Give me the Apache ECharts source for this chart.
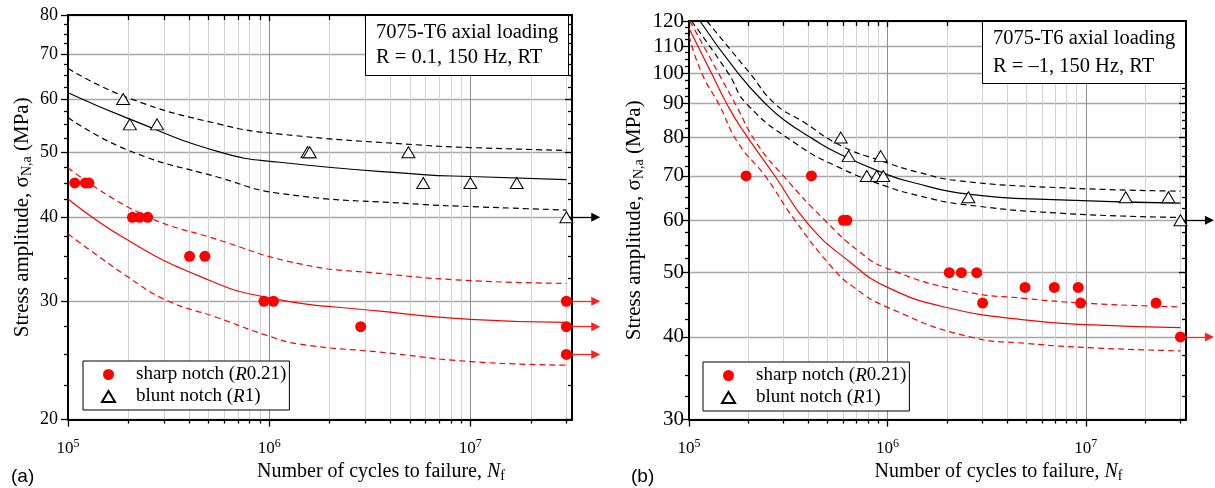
<!DOCTYPE html>
<html><head><meta charset="utf-8">
<script src="https://cdn.jsdelivr.net/npm/echarts@6/dist/echarts.min.js"></script>
<style>html,body{margin:0;padding:0;background:#fff}#c{width:1215px;height:488px}</style>
</head><body><div id="c"></div>
<script>
// ===== Panel (a): R = 0.1 =====
const sharpA_N = [1.08e5, 1.22e5, 1.27e5, 2.09e5, 2.27e5, 2.49e5, 4.02e5, 4.79e5, 9.42e5, 1.05e6, 2.85e6, 3.0e7, 3.0e7, 3.0e7];
const sharpA_S = [45, 45, 45, 40, 40, 40, 35, 35, 30, 30, 27.5, 30, 27.5, 25];
const bluntA_N = [1.88e5, 2.03e5, 2.77e5, 1.55e6, 1.59e6, 4.92e6, 5.83e6, 1.0e7, 1.70e7, 3.0e7];
const bluntA_S = [60, 55, 55, 50, 50, 50, 45, 45, 45, 40];
const runoutA_sharp_S = [30, 27.5, 25];
const runoutA_blunt_S = [40];

const fitA_black_N   = [1e5, 2.0e5, 5.7e5, 1.13e6, 5.8e6, 1e7, 3e7];
const fitA_black_S   = [61.3, 56.1, 50.0, 48.3, 46.3, 46.0, 45.5];
const fitA_blackUp_N = [1e5, 2.0e5, 5.7e5, 1.13e6, 5.8e6, 1e7, 3e7];
const fitA_blackUp_S = [66.6, 60.2, 55.0, 53.2, 51.2, 50.8, 50.3];
const fitA_blackLo_N = [1e5, 2.0e5, 5.7e5, 1.13e6, 5.8e6, 1e7, 3e7];
const fitA_blackLo_S = [56.3, 50.3, 45.8, 43.4, 41.8, 41.5, 41.0];
const fitA_red_N     = [1e5, 1.95e5, 4.5e5, 9.7e5, 3.56e6, 1e7, 3e7];
const fitA_red_S     = [42.6, 37.1, 32.7, 30.4, 29.0, 28.2, 27.9];
const fitA_redUp_N   = [1e5, 2.27e5, 5.47e5, 1.42e6, 3.56e6, 1e7, 3e7];
const fitA_redUp_S   = [47.4, 40.6, 37.1, 34.1, 33.0, 32.2, 31.9];
const fitA_redLo_N   = [1e5, 1.99e5, 3.09e5, 5.47e5, 9.7e5, 1.42e6, 3.56e6, 1e7, 3e7];
const fitA_redLo_S   = [37.8, 32.6, 30.1, 28.4, 26.7, 25.9, 25.2, 24.4, 24.1];

// ===== Panel (b): R = -1 =====
const sharpB_N = [1.94e5, 4.14e5, 6.0e5, 6.25e5, 2.05e6, 2.36e6, 2.82e6, 3.02e6, 4.94e6, 6.94e6, 9.16e6, 9.42e6, 2.26e7, 3.0e7];
const sharpB_S = [70, 70, 60, 60, 50, 50, 50, 45, 47.5, 47.5, 47.5, 45, 45, 40];
const bluntB_N = [5.82e5, 6.38e5, 9.25e5, 7.87e5, 8.83e5, 9.53e5, 2.56e6, 1.59e7, 2.61e7, 3.0e7];
const bluntB_S = [80, 75, 75, 70, 70, 70, 65, 65, 65, 60];
const runoutB_sharp_S = [40];
const runoutB_blunt_S = [60];

const fitB_black_N   = [1.135e5, 1.77e5, 2.43e5, 2.99e5, 4.24e5, 5.77e5, 9.9e5, 1.3e6, 2.55e6, 7.4e6, 3e7];
const fitB_black_S   = [120, 100, 90, 85.2, 79.5, 75.5, 70.4, 68.6, 65.7, 64.4, 63.7];
const fitB_blackUp_N = [1.23e5, 2.03e5, 2.71e5, 3.77e5, 5.77e5, 9.16e5, 1.46e6, 2.32e6, 7.4e6, 3e7];
const fitB_blackUp_S = [120, 100, 90, 84.5, 77.9, 73.9, 70.8, 68.8, 67.2, 66.4];
const fitB_blackLo_N = [1.03e5, 1.58e5, 1.95e5, 3.42e5, 5.77e5, 9.9e5, 1.46e6, 2.32e6, 7.4e6, 3e7];
const fitB_blackLo_S = [120, 100, 90, 78.5, 72.0, 67.5, 65.3, 63.5, 61.5, 60.6];
const fitB_red_N     = [1e5, 1.30e5, 1.55e5, 1.81e5, 2.71e5, 3.99e5, 6.47e5, 9.9e5, 1.99e6, 5.04e6, 1.09e7, 3e7];
const fitB_red_S     = [117, 100, 90, 83.2, 70, 59.2, 51.9, 47.6, 44.3, 42.4, 41.7, 41.3];
const fitB_redUp_N   = [1.01e5, 1.41e5, 1.71e5, 2.19e5, 2.99e5, 4.84e5, 7.28e5, 9.9e5, 2.32e6, 5.04e6, 1.09e7, 3e7];
const fitB_redUp_S   = [120, 100, 90, 78.5, 70, 60, 53.7, 50.8, 47.0, 45.7, 44.9, 44.4];
const fitB_redLo_N   = [1e5, 1.16e5, 1.41e5, 1.77e5, 2.42e5, 3.42e5, 5.33e5, 6.73e5, 9.9e5, 2.61e6, 5.04e6, 1.09e7, 3e7];
const fitB_redLo_S   = [114, 100, 90, 78.5, 70, 60, 50.7, 47.6, 44.4, 40, 39.1, 38.5, 38.1];

// ===== Axes =====
const X_RANGE = [1e5, 3.2e7];
const X_MAJOR = [1e5, 1e6, 1e7];
const X_MINOR = [2e5, 3e5, 4e5, 5e5, 6e5, 7e5, 8e5, 9e5, 2e6, 3e6, 4e6, 5e6, 6e6, 7e6, 8e6, 9e6, 2e7, 3e7];
const Y_RANGE_A = [20, 80];
const Y_MAJOR_A = [20, 30, 40, 50, 60, 70, 80];
const Y_MINOR_A = [22.5, 25, 27.5, 32.5, 35, 37.5, 42.5, 45, 47.5, 52.5, 55, 57.5, 62.5, 65, 67.5, 72.5, 75, 77.5];
const Y_RANGE_B = [30, 120];
const Y_MAJOR_B = [30, 40, 50, 60, 70, 80, 90, 100, 110, 120];
const Y_MINOR_B = [32.5, 35, 37.5, 42.5, 45, 47.5, 52.5, 55, 57.5, 62.5, 65, 67.5, 72.5, 75, 77.5, 82.5, 85, 87.5, 92.5, 95, 97.5, 102.5, 105, 107.5, 112.5, 115, 117.5];
const RUNOUT_N = 3e7;
const ARROW_END_N = 4.2e7;

const FONT = 'Liberation Serif';
const L = Math.log10;
const pts = (N, S) => N.map((n, i) => [L(n), L(S[i])]);

const options = {animation: false, textStyle: {fontFamily: FONT, color: '#000'},
  grid: [], xAxis: [], yAxis: [], series: [], legend: [], title: []};

function addPanel(gi, P) {
  options.grid.push(P.grid);
  const ax = gi * 4;
  const xb = () => ({type: 'value', gridIndex: gi, min: L(X_RANGE[0]), max: L(X_RANGE[1]),
    axisLine: {show: false, onZero: false}, axisTick: {show: false}, axisLabel: {show: false}, splitLine: {show: false}});
  const yb = () => ({type: 'value', gridIndex: gi, min: L(P.yRange[0]), max: L(P.yRange[1]),
    axisLine: {show: false, onZero: false}, axisTick: {show: false}, axisLabel: {show: false}, splitLine: {show: false}});
  const frame = {show: true, onZero: false, lineStyle: {color: '#000', width: 2}};
  const tk = (vals, len, inside) => ({show: true, customValues: vals.map(L), length: len, inside: inside, lineStyle: {color: '#000', width: 1.3}});
  // x bottom major
  options.xAxis.push(Object.assign(xb(), {position: 'bottom', axisLine: frame,
    axisTick: tk(X_MAJOR, 7, false),
    axisLabel: {show: true, customValues: X_MAJOR.map(L), margin: 18,
      formatter: v => '{b|10}{s|' + Math.round(v) + '}',
      rich: {b: {fontFamily: FONT, fontSize: 17, lineHeight: 22, color: '#000'},
             s: {fontFamily: FONT, fontSize: 12, lineHeight: 13, verticalAlign: 'top', color: '#000'}}},
    splitLine: {show: true, lineStyle: {color: '#8f8f8f', width: 1}},
    name: '{t|Number of cycles to failure, }{i|N}{s|f}', nameLocation: 'middle', nameGap: P.xNameGap,
    nameTextStyle: {padding: [0, 0, 0, 122], rich: {
      t: {fontFamily: FONT, fontSize: 20, lineHeight: 22, color: '#000'},
      i: {fontFamily: FONT, fontSize: 20, lineHeight: 22, fontStyle: 'italic', color: '#000'},
      s: {fontFamily: FONT, fontSize: 14, lineHeight: 14, verticalAlign: 'bottom', color: '#000'}}}
  }));
  // x bottom minor
  options.xAxis.push(Object.assign(xb(), {position: 'bottom', axisTick: tk(X_MINOR, 4, false),
    splitLine: {show: true, lineStyle: {color: '#d2d2d2', width: 1}}}));
  // x top
  options.xAxis.push(Object.assign(xb(), {position: 'top', axisLine: frame, axisTick: tk(X_MAJOR, 6, true)}));
  options.xAxis.push(Object.assign(xb(), {position: 'top', axisTick: tk(X_MINOR, 5, true)}));
  // y left major
  options.yAxis.push(Object.assign(yb(), {position: 'left', axisLine: frame,
    axisTick: tk(P.yMajor, 7, false),
    axisLabel: {show: true, customValues: P.yMajor.map(L), margin: P.yLabelMargin,
      formatter: v => String(Math.round(Math.pow(10, v))),
      fontFamily: FONT, fontSize: P.yLabelSize, color: '#000'},
    splitLine: {show: true, lineStyle: {color: '#a6a6a6', width: 1.4}},
    name: '{t|Stress amplitude, σ}{s|N,a}{t| (MPa)}', nameLocation: 'middle', nameGap: P.yNameGap,
    nameTextStyle: {rich: {
      t: {fontFamily: FONT, fontSize: 21, lineHeight: 24, color: '#000'},
      s: {fontFamily: FONT, fontSize: 14, lineHeight: 14, verticalAlign: 'bottom', color: '#000'}}}
  }));
  options.yAxis.push(Object.assign(yb(), {position: 'left', axisTick: tk(P.yMinor, 4, false)}));
  // y right (mirror)
  options.yAxis.push(Object.assign(yb(), {position: 'right', axisLine: frame, axisTick: tk(P.yMajor, 7, true)}));
  options.yAxis.push(Object.assign(yb(), {position: 'right', axisTick: tk(P.yMinor, 4, true)}));

  const line = (N, S, color, dashed) => ({type: 'line', xAxisIndex: ax, yAxisIndex: ax, data: pts(N, S),
    showSymbol: false, symbol: 'none', smooth: 0.5, silent: true, z: 2,
    lineStyle: {color: color, width: 1.2, type: dashed ? [6, 4] : 'solid'}});
  P.fits.forEach(f => options.series.push(line(f[0], f[1], f[2], f[3])));

  const arrows = (S, color) => ({type: 'lines', coordinateSystem: 'cartesian2d', xAxisIndex: ax, yAxisIndex: ax,
    clip: false, silent: true, z: 3, symbol: ['none', 'triangle'], symbolSize: [0, 9],
    lineStyle: {color: color, width: 1.3, opacity: 1},
    data: S.map(s => ({coords: [[L(RUNOUT_N), L(s)], [L(ARROW_END_N), L(s)]]}))});
  options.series.push(arrows(P.runSharp, '#ff2020'));
  options.series.push(arrows(P.runBlunt, '#000'));

  options.series.push({type: 'scatter', name: 'sharp notch', xAxisIndex: ax, yAxisIndex: ax, z: 5,
    data: pts(P.sharpN, P.sharpS), symbol: 'circle', symbolSize: 11, itemStyle: {color: '#ff0000', opacity: 1}});
  options.series.push({type: 'scatter', name: 'blunt notch', xAxisIndex: ax, yAxisIndex: ax, z: 5,
    data: pts(P.bluntN, P.bluntS), symbol: 'triangle', symbolSize: [13, 11],
    itemStyle: {color: '#ffffff', borderColor: '#000', borderWidth: 1, opacity: 1}});

  options.legend.push({left: P.legendPos[0], top: P.legendPos[1], orient: 'vertical', selectedMode: false,
    data: ['sharp notch', 'blunt notch'], itemWidth: 13, itemHeight: 11, itemGap: 3,
    padding: [4, 3, 4, 18], borderColor: '#000', borderWidth: 1, backgroundColor: '#fff',
    formatter: n => n === 'sharp notch' ? '{sp| }{t|sharp notch (}{i|R}{t|0.21)}' : '{sp| }{t|blunt notch (}{i|R}{t|1)}',
    textStyle: {fontFamily: FONT, fontSize: 19, color: '#000', rich: {
      sp: {width: 16, fontSize: 19, lineHeight: 20},
      t: {fontFamily: FONT, fontSize: 19, lineHeight: 20, color: '#000'},
      i: {fontFamily: FONT, fontSize: 19, lineHeight: 20, fontStyle: 'italic', color: '#000'}}}});

  options.title.push({left: P.titlePos[0], top: P.titlePos[1], text: P.titleText, padding: P.titlePad,
    borderColor: '#000', borderWidth: 1, backgroundColor: '#fff',
    textStyle: {fontFamily: FONT, fontSize: 20.5, fontWeight: 'normal', color: '#000', lineHeight: P.titleLH}});
  options.title.push({left: P.tagPos[0], top: P.tagPos[1], text: P.tag, padding: 0,
    textStyle: {fontFamily: 'Liberation Sans', fontSize: 19, fontWeight: 'normal', color: '#000'}});
}

addPanel(0, {
  grid: {left: 68, top: 15, width: 504, height: 406},
  yRange: Y_RANGE_A, yMajor: Y_MAJOR_A, yMinor: Y_MINOR_A, yLabelSize: 18, yLabelMargin: 10,
  yNameGap: 34, xNameGap: 41,
  fits: [[fitA_black_N, fitA_black_S, '#000', false], [fitA_blackUp_N, fitA_blackUp_S, '#000', true],
         [fitA_blackLo_N, fitA_blackLo_S, '#000', true], [fitA_red_N, fitA_red_S, '#ff0000', false],
         [fitA_redUp_N, fitA_redUp_S, '#ff0000', true], [fitA_redLo_N, fitA_redLo_S, '#ff0000', true]],
  runSharp: runoutA_sharp_S, runBlunt: runoutA_blunt_S,
  sharpN: sharpA_N, sharpS: sharpA_S, bluntN: bluntA_N, bluntS: bluntA_S,
  legendPos: [83, 361], titlePos: [365, 15], titlePad: [5, 11, 6, 11], titleLH: 25,
  titleText: '7075-T6 axial loading\nR = 0.1, 150 Hz, RT', tag: '(a)', tagPos: [11, 467]
});
addPanel(1, {
  grid: {left: 689, top: 21, width: 497, height: 401},
  yRange: Y_RANGE_B, yMajor: Y_MAJOR_B, yMinor: Y_MINOR_B, yLabelSize: 21, yLabelMargin: 5,
  yNameGap: 43, xNameGap: 40,
  fits: [[fitB_black_N, fitB_black_S, '#000', false], [fitB_blackUp_N, fitB_blackUp_S, '#000', true],
         [fitB_blackLo_N, fitB_blackLo_S, '#000', true], [fitB_red_N, fitB_red_S, '#ff0000', false],
         [fitB_redUp_N, fitB_redUp_S, '#ff0000', true], [fitB_redLo_N, fitB_redLo_S, '#ff0000', true]],
  runSharp: runoutB_sharp_S, runBlunt: runoutB_blunt_S,
  sharpN: sharpB_N, sharpS: sharpB_S, bluntN: bluntB_N, bluntS: bluntB_S,
  legendPos: [703, 362], titlePos: [982, 21], titlePad: [4, 11, 3, 11], titleLH: 28,
  titleText: '7075-T6 axial loading\nR = \u20131, 150 Hz, RT', tag: '(b)', tagPos: [631, 467]
});

const chart = echarts.init(document.getElementById('c'), null, {renderer: 'canvas'});
chart.setOption(options);
</script>
</body></html>
